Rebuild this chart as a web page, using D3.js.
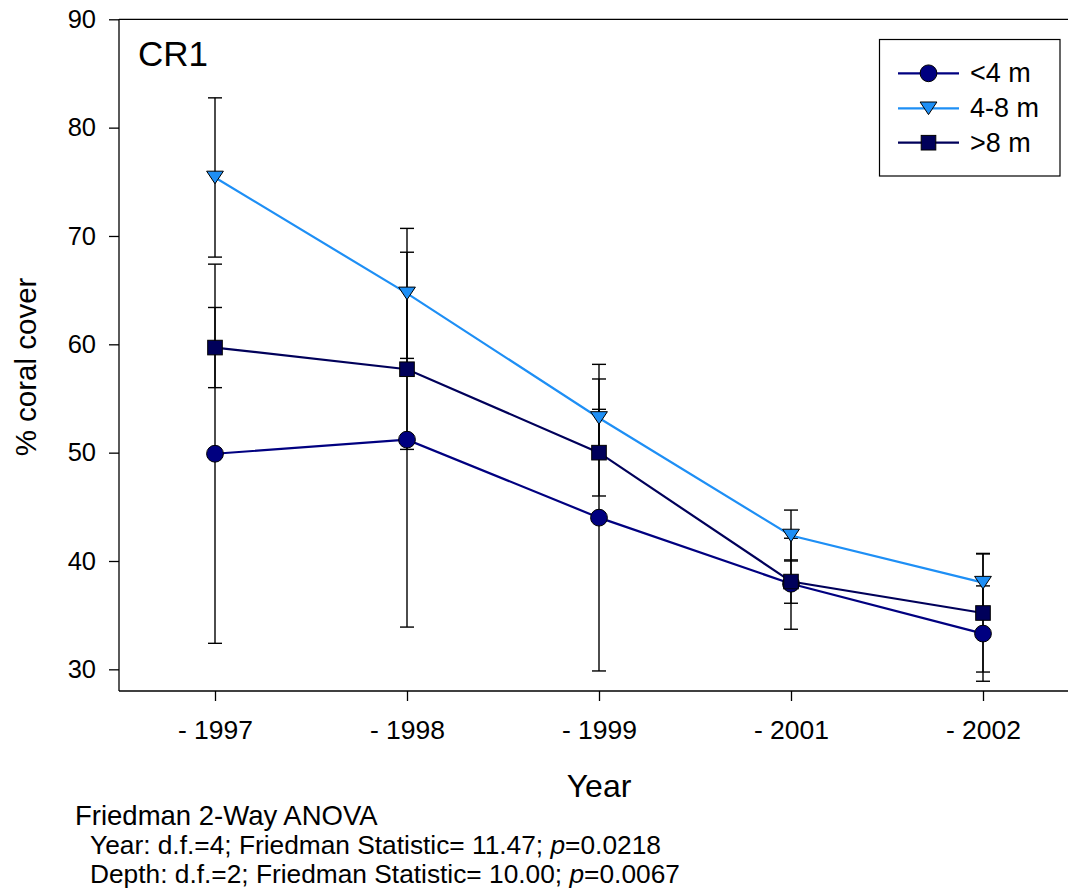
<!DOCTYPE html>
<html>
<head>
<meta charset="utf-8">
<script src="https://cdn.jsdelivr.net/npm/d3@7"></script>
<style>
  html, body { margin: 0; padding: 0; background: #fff; }
  svg { display: block; font-family: "Liberation Sans", Arial, sans-serif; }
</style>
</head>
<body>
<svg id="chart" width="1068" height="895"></svg>
<script>
// Survey years on the x axis
const years = ["1997", "1998", "1999", "2001", "2002"];

// Mean % coral cover and error-bar half-widths by depth band
const shallowMean = [49.9, 51.2, 44.0, 37.9, 33.3];
const shallowErr  = [17.5, 17.3, 14.15, 4.2, 4.4];
const midMean     = [75.4, 64.7, 53.2, 42.35, 38.0];
const midErr      = [7.35, 6.0, 3.6, 2.35, 2.7];
const deepMean    = [59.7, 57.7, 50.0, 38.1, 35.2];
const deepErr     = [3.7, 7.4, 4.0, 2.0, 5.45];

const yTicks = [30, 40, 50, 60, 70, 80, 90];
const seriesNames = ["<4 m", "4-8 m", ">8 m"];

const series = [
  { name: seriesNames[0], mean: shallowMean, err: shallowErr, line: "#000080", fill: "#000080", shape: "circle" },
  { name: seriesNames[1], mean: midMean,     err: midErr,     line: "#1e8ff5", fill: "#1e8ff5", shape: "triangle" },
  { name: seriesNames[2], mean: deepMean,    err: deepErr,    line: "#00005a", fill: "#00005a", shape: "square" }
];

const svg = d3.select("#chart");
const plotLeft = 119, plotTop = 19.3, plotBottom = 691, rightEdge = 1068;

const x = d3.scalePoint().domain(years).range([plotLeft, 1079]).padding(0.5);
const y = d3.scaleLinear().domain([28, 90]).range([plotBottom, plotTop]);

// Frame: top border line (left and bottom come from the axes)
svg.append("line")
  .attr("x1", plotLeft).attr("x2", rightEdge)
  .attr("y1", y(90)).attr("y2", y(90))
  .attr("stroke", "#000").attr("stroke-width", 1.3);

// Axes
const xAxis = svg.append("g")
  .attr("transform", `translate(0,${plotBottom})`)
  .call(d3.axisBottom(x).tickSize(10).tickSizeOuter(0).tickFormat(d => "- " + d));
xAxis.select(".domain").attr("d", `M${plotLeft},0H${rightEdge}`);
xAxis.selectAll("text").attr("font-size", 26.5).attr("dy", "1.33em").attr("fill", "#000");

const yAxis = svg.append("g")
  .attr("transform", `translate(${plotLeft},0)`)
  .call(d3.axisLeft(y).tickValues(yTicks).tickSize(10).tickSizeOuter(0));
yAxis.select(".domain").attr("d", `M0,${y(90)}V${plotBottom}`);
yAxis.selectAll("text").attr("font-size", 25.5).attr("x", -23).attr("fill", "#000");

svg.selectAll(".domain, .tick line").attr("stroke", "#000").attr("stroke-width", 1.3);

// Axis titles
svg.append("text")
  .attr("transform", `translate(36,367) rotate(-90)`)
  .attr("text-anchor", "middle").attr("font-size", 29.5)
  .text("% coral cover");

svg.append("text")
  .attr("x", 599).attr("y", 797)
  .attr("text-anchor", "middle").attr("font-size", 32)
  .text("Year");

// Panel label
svg.append("text")
  .attr("x", 138).attr("y", 66)
  .attr("font-size", 35)
  .text("CR1");

// Error bars
const capHalf = 7;
series.forEach(s => {
  const g = svg.append("g");
  years.forEach((yr, i) => {
    const cx = x(yr);
    const hi = y(s.mean[i] + s.err[i]);
    const lo = y(s.mean[i] - s.err[i]);
    g.append("line").attr("x1", cx).attr("x2", cx).attr("y1", hi).attr("y2", lo)
      .attr("stroke", "#000").attr("stroke-width", 1.4);
    [hi, lo].forEach(v => g.append("line")
      .attr("x1", cx - capHalf).attr("x2", cx + capHalf).attr("y1", v).attr("y2", v)
      .attr("stroke", "#000").attr("stroke-width", 1.4));
  });
});

// Series lines
const line = d3.line().x((d, i) => x(years[i])).y(d => y(d));
series.forEach(s => {
  svg.append("path").datum(s.mean)
    .attr("d", line)
    .attr("fill", "none").attr("stroke", s.line).attr("stroke-width", 2.2);
});

// Marker symbols
function drawMarker(g, shape, cx, cy, fill) {
  if (shape === "circle") {
    g.append("circle").attr("cx", cx).attr("cy", cy).attr("r", 8.4)
      .attr("fill", fill).attr("stroke", "#000").attr("stroke-width", 1);
  } else if (shape === "square") {
    g.append("rect").attr("x", cx - 7.3).attr("y", cy - 7.3).attr("width", 14.6).attr("height", 14.6)
      .attr("fill", fill).attr("stroke", "#000").attr("stroke-width", 1);
  } else {
    const w = 8.4, h = 12.6;
    g.append("path")
      .attr("d", `M${cx - w},${cy - h / 2}L${cx + w},${cy - h / 2}L${cx},${cy + h / 2}Z`)
      .attr("fill", fill).attr("stroke", "#000").attr("stroke-width", 1);
  }
}

series.forEach(s => {
  const g = svg.append("g");
  s.mean.forEach((v, i) => drawMarker(g, s.shape, x(years[i]), y(v), s.fill));
});

// Legend
const legend = svg.append("g");
legend.append("rect")
  .attr("x", 879.5).attr("y", 39.5).attr("width", 180.5).attr("height", 136.5)
  .attr("fill", "#fff").attr("stroke", "#000").attr("stroke-width", 1.2);
const rowY = [73.3, 108.3, 142.7];
series.forEach((s, i) => {
  const ry = rowY[i];
  legend.append("line").attr("x1", 898).attr("x2", 959).attr("y1", ry).attr("y2", ry)
    .attr("stroke", s.line).attr("stroke-width", 2.2);
  drawMarker(legend, s.shape, 928.5, ry, s.fill);
  legend.append("text").attr("x", 970).attr("y", ry + 9)
    .attr("font-size", 27).text(s.name);
});

// Test statistics
const stats = svg.append("g");
stats.append("text").attr("x", 75).attr("y", 825).attr("font-size", 27.5).text("Friedman 2-Way ANOVA");
const l2 = stats.append("text").attr("x", 90).attr("y", 854).attr("font-size", 26.3);
l2.append("tspan").text("Year: d.f.=4; Friedman Statistic= 11.47; ");
l2.append("tspan").attr("font-style", "italic").text("p");
l2.append("tspan").text("=0.0218");
const l3 = stats.append("text").attr("x", 90).attr("y", 883).attr("font-size", 26.3);
l3.append("tspan").text("Depth: d.f.=2; Friedman Statistic= 10.00; ");
l3.append("tspan").attr("font-style", "italic").text("p");
l3.append("tspan").text("=0.0067");
</script>
</body>
</html>
